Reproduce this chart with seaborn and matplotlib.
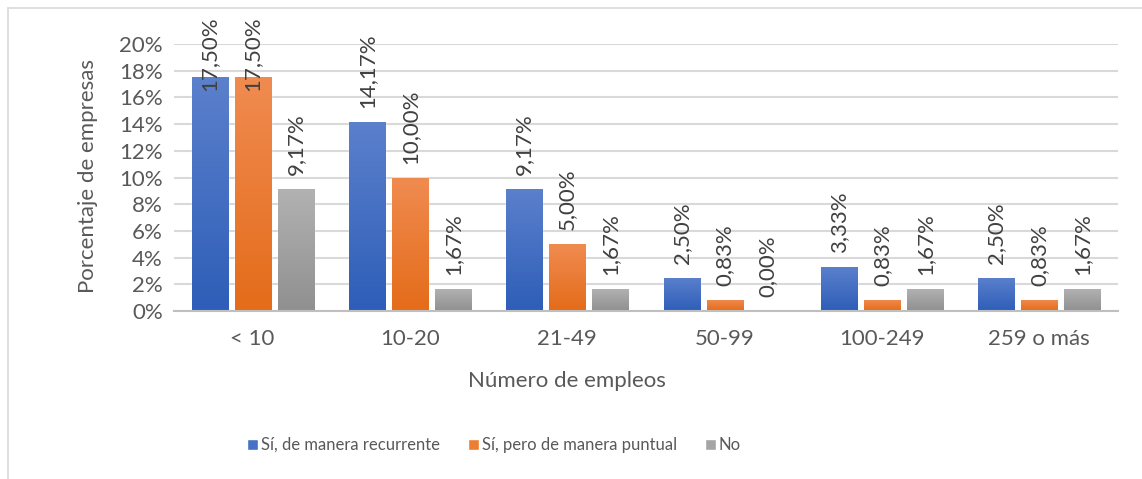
import numpy as np
import pandas as pd
import matplotlib
matplotlib.use("Agg")
import matplotlib.pyplot as plt
import seaborn as sns
from matplotlib.colors import LinearSegmentedColormap
from matplotlib.ticker import PercentFormatter, MultipleLocator
from matplotlib.lines import Line2D
import matplotlib.transforms as mtransforms

categories = ["< 10", "10-20", "21-49", "50-99", "100-249", "259 o más"]
series_names = ["Sí, de manera recurrente", "Sí, pero de manera puntual", "No"]
recurrente = [0.1750, 0.1417, 0.0917, 0.0250, 0.0333, 0.0250]
puntual = [0.1750, 0.1000, 0.0500, 0.0083, 0.0083, 0.0083]
no_vals = [0.0917, 0.0167, 0.0167, 0.0000, 0.0167, 0.0167]

colors = ["#4472C4", "#ED7D31", "#A5A5A5"]
grad_top = ["#5B80CC", "#F08B50", "#B2B2B2"]
grad_bot = ["#2E5EB8", "#E46C1A", "#909090"]

rows = []
for s, vals in zip(series_names, [recurrente, puntual, no_vals]):
    for c, v in zip(categories, vals):
        rows.append({"cat": c, "series": s, "value": v})
df = pd.DataFrame(rows)

sns.set_theme(style="white")
FONT = ["Lato", "DejaVu Sans"]
plt.rcParams["font.family"] = FONT
TXT = "#595959"

W, H = 1142, 479
fig = plt.figure(figsize=(W / 100, H / 100), dpi=100)
ax = fig.add_axes([174 / W, 1 - 311 / H, (1118 - 174) / W, (311 - 44) / H])

sns.barplot(data=df, x="cat", y="value", hue="series", palette=colors,
            hue_order=series_names, order=categories,
            width=0.82, gap=0.16, ax=ax, legend=True, saturation=1)

handles, labels = ax.get_legend_handles_labels()
ax.get_legend().remove()

ax.set_ylim(0, 0.20)
ax.set_xlim(-0.5, len(categories) - 0.5)
ax.yaxis.set_major_locator(MultipleLocator(0.02))
ax.yaxis.set_major_formatter(PercentFormatter(1, decimals=0))
ax.grid(axis="y", color="#D9D9D9", linewidth=1.5)
ax.set_axisbelow(True)
for sp in ["top", "right", "left"]:
    ax.spines[sp].set_visible(False)
ax.spines["bottom"].set_color("#BFBFBF")
ax.spines["bottom"].set_linewidth(1.5)
ax.tick_params(axis="both", length=0, labelsize=16, labelcolor=TXT)
ax.tick_params(axis="x", pad=13)
ax.tick_params(axis="y", pad=8)
ax.set_xlabel("")
ax.set_ylabel("")
fig.text(567 / W, 1 - 381 / H, "Número de empleos", fontsize=16, color=TXT,
         ha="center", va="center")
fig.text(88 / W, 1 - 176 / H, "Porcentaje de empresas", fontsize=16, color=TXT,
         ha="center", va="center", rotation=90)

# gradients + labels
texts = []
for ci, cont in enumerate(ax.containers):
    cmap = LinearSegmentedColormap.from_list("g", [grad_bot[ci], grad_top[ci]])
    for rect in cont:
        x0, y0, w, h = rect.get_x(), rect.get_y(), rect.get_width(), rect.get_height()
        if h > 0:
            grad = np.linspace(0, 1, 64).reshape(-1, 1)
            im = ax.imshow(grad, extent=(x0, x0 + w, y0, y0 + h), aspect="auto",
                           cmap=cmap, origin="lower", zorder=rect.get_zorder() + 0.1,
                           interpolation="bilinear")
            im.set_clip_path(rect)
        lab = f"{h * 100:.2f}%".replace(".", ",")
        t = ax.annotate(lab, xy=(x0 + w / 2, y0 + h), xytext=(0, 10),
                        textcoords="offset points", rotation=90, ha="center",
                        va="bottom", fontsize=16, color="#404040", zorder=5)
        texts.append((t, x0 + w / 2, lab))

ax.set_ylim(0, 0.20)
ax.set_xlim(-0.5, len(categories) - 0.5)

fig.canvas.draw()
renderer = fig.canvas.get_renderer()
for t, xc, lab in texts:
    bb = t.get_window_extent(renderer)
    if bb.y1 > H - 17:
        t.remove()
        tr = mtransforms.blended_transform_factory(ax.transData, fig.transFigure)
        ax.text(xc, 1 - 16 / H, lab, transform=tr, rotation=90, ha="center",
                va="top", fontsize=16, color="#404040", zorder=5, clip_on=False)

leg = fig.legend(handles, labels, loc="center", bbox_to_anchor=(494 / W, 1 - 445 / H),
                 ncol=3, frameon=False, fontsize=12, handlelength=0.66,
                 handleheight=0.66, handletextpad=0.15, columnspacing=1.7,
                 labelcolor=TXT)

# chart border (partially visible)
fig.add_artist(Line2D([8 / W, 8 / W], [0, 1 - 8 / H], color="#D9D9D9", linewidth=1.2))
fig.add_artist(Line2D([8 / W, 1], [1 - 8 / H, 1 - 8 / H], color="#D9D9D9", linewidth=1.2))

fig.savefig("out.png", dpi=100, facecolor="white")
